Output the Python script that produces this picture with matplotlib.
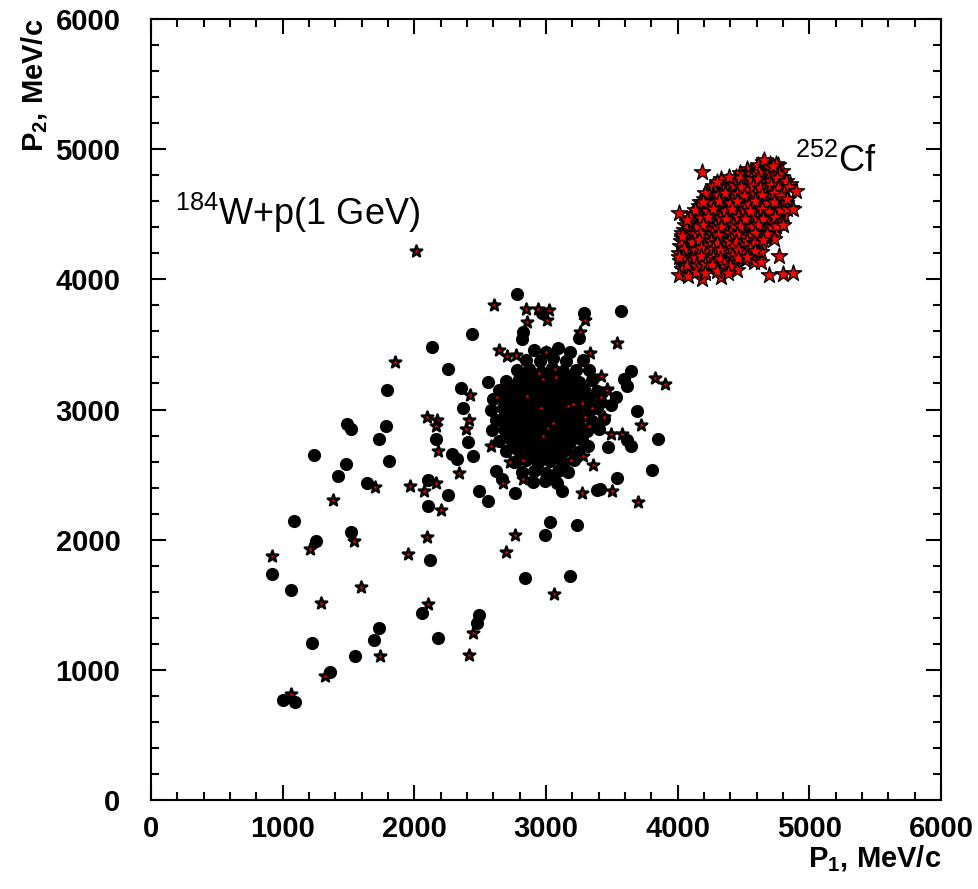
import numpy as np
import matplotlib
matplotlib.use("Agg")
import matplotlib.pyplot as plt
from matplotlib.ticker import MultipleLocator

plt.rcParams['font.family'] = ['Liberation Sans', 'DejaVu Sans']
plt.rcParams['mathtext.fontset'] = 'custom'
plt.rcParams['mathtext.rm'] = 'Liberation Sans'
plt.rcParams['mathtext.bf'] = 'Liberation Sans:bold'

# 184W + p (1 GeV), coincidences drawn as filled circles  (P1, P2) in MeV/c
w_circles = [
    (1090, 2140), (1517, 2061), (1253, 1988), (917, 1734), (1063, 1611),
    (1734, 1319), (1696, 1229), (1223, 1206), (1549, 1109), (1359, 983),
    (1005, 766), (1091, 755), (2121, 1844), (2058, 1440), (2182, 1242),
    (2494, 1422), (2478, 1360), (2992, 2036), (3235, 2115), (3030, 2138),
    (2838, 1708), (3180, 1718), (1792, 3148), (1486, 2886), (1519, 2849),
    (1782, 2875), (1732, 2774), (1240, 2651), (1478, 2581), (1808, 2607),
    (1418, 2493), (1641, 2433), (3567, 3757), (3648, 3296), (3595, 3232),
    (3613, 3183), (3529, 3096), (3494, 3035), (3691, 2989), (3613, 2766),
    (3648, 2722), (3473, 2710), (3848, 2774), (3803, 2538), (3542, 2476),
    (3410, 2389), (2782, 3885), (2967, 3739), (3291, 3743), (3251, 3546),
    (2828, 3598), (2815, 3539), (2436, 3582), (2137, 3484), (2253, 3309),
    (2354, 3168), (2372, 3009), (2165, 2774), (2410, 2754), (2284, 2658),
    (2327, 2617), (2446, 2644), (2101, 2458), (2256, 2343), (2489, 2374),
    (2562, 3208), (3051, 2475), (3321, 2721), (3385, 2385), (3119, 2374),
    (2765, 2356), (2618, 2529), (2666, 2470), (2105, 2260), (2560, 2300),
    # dense core
    (2910, 3460), (3000, 3440), (3095, 3470), (3180, 3440),
    (2850, 3380), (2955, 3370), (3050, 3395), (3150, 3375), (3280, 3380),
    (2780, 3300), (2870, 3310), (2960, 3290), (3045, 3320), (3130, 3295), (3225, 3305), (3330, 3300),
    (2700, 3220), (2795, 3235), (2880, 3210), (2985, 3225), (3070, 3200), (3160, 3230), (3250, 3210), (3350, 3225),
    (2640, 3150), (2735, 3140), (2830, 3160), (2920, 3145), (3010, 3155), (3100, 3135), (3190, 3150), (3290, 3160), (3390, 3140),
    (2600, 3080), (2700, 3090), (2790, 3070), (2880, 3085), (2970, 3060), (3060, 3080), (3150, 3090), (3240, 3070), (3330, 3085), (3420, 3060),
    (2580, 3000), (2670, 3010), (2760, 2990), (2850, 3005), (2940, 2995), (3030, 3010), (3120, 2990), (3210, 3005), (3300, 2995), (3390, 3010),
    (2620, 2920), (2710, 2930), (2800, 2910), (2890, 2925), (2980, 2915), (3070, 2930), (3160, 2910), (3250, 2925), (3350, 2915), (3440, 2925),
    (2590, 2840), (2680, 2850), (2770, 2830), (2860, 2845), (2950, 2835), (3040, 2850), (3130, 2830), (3220, 2845), (3310, 2835), (3400, 2850),
    (2640, 2760), (2730, 2770), (2820, 2750), (2910, 2765), (3000, 2755), (3090, 2770), (3180, 2750), (3270, 2765),
    (2700, 2680), (2790, 2690), (2880, 2670), (2970, 2685), (3060, 2675), (3150, 2690), (3240, 2670),
    (2760, 2600), (2850, 2610), (2940, 2590), (3030, 2605), (3120, 2595), (3210, 2610),
    (2820, 2520), (2910, 2530), (3000, 2515), (3090, 2525), (3170, 2520),
    (2900, 2440), (2990, 2450), (3080, 2435),
    (2830, 3265), (2920, 3255), (3010, 3270), (3100, 3260), (3190, 3255),
    (2770, 3190), (2860, 3180), (2950, 3195), (3040, 3185), (3130, 3180), (3220, 3190),
    (2710, 3120), (2800, 3110), (2890, 3125), (2980, 3115), (3070, 3110), (3160, 3120), (3260, 3115),
    (2720, 3045), (2810, 3035), (2900, 3050), (2990, 3040), (3080, 3035), (3170, 3045), (3260, 3040),
    (2690, 2965), (2780, 2955), (2870, 2970), (2960, 2960), (3050, 2955), (3140, 2965), (3230, 2960), (3320, 2955),
    (2710, 2885), (2800, 2875), (2890, 2890), (2980, 2880), (3070, 2875), (3160, 2885), (3250, 2880),
    (2700, 2805), (2790, 2795), (2880, 2810), (2970, 2800), (3060, 2795), (3150, 2805), (3240, 2800),
    (2760, 2725), (2850, 2715), (2940, 2730), (3030, 2720), (3120, 2715),
    (2820, 2645), (2910, 2635), (3000, 2650), (3090, 2640),
]

# 184W + p (1 GeV), coincidences drawn as small stars
w_stars = [
    (1542, 1990), (1208, 1926), (921, 1874), (1592, 1636), (1291, 1511),
    (1739, 1106), (1322, 955), (1063, 814), (1382, 2305), (2096, 2023),
    (1952, 1890), (2104, 1508), (2446, 1280), (2415, 1114), (2762, 2038),
    (2694, 1908), (3063, 1583), (1853, 3365), (1699, 2407), (3537, 3513),
    (3828, 3242), (3904, 3199), (3461, 3156), (3418, 3260), (3418, 3093),
    (3719, 2881), (3440, 2940), (3491, 2810), (3577, 2812), (3499, 2374),
    (3701, 2293), (2010, 4220), (2607, 3803), (2848, 3770), (2942, 3772),
    (3020, 3764), (3008, 3688), (2853, 3670), (3299, 3688), (3258, 3592),
    (2423, 3108), (2099, 2945), (2175, 2923), (2165, 2873), (2413, 2917),
    (2390, 2851), (2182, 2681), (2339, 2510), (1969, 2415), (2076, 2376),
    (2162, 2433), (2580, 2721), (2626, 3089), (2646, 3455), (2704, 3409),
    (2772, 3420), (3000, 3443), (2853, 3104), (3068, 3309), (3074, 3252),
    (3337, 3433), (3352, 3008), (3324, 2874), (3013, 2860), (2975, 2797),
    (3056, 2893), (2727, 2599), (2823, 2612), (2823, 2469), (3188, 2612),
    (3279, 2643), (3359, 2570), (3276, 2360), (2671, 2432), (3167, 3027),
    (3271, 3048), (3203, 3043), (3294, 2945), (2964, 3008), (2949, 3278),
    (2980, 3231), (2630, 3096), (3466, 3150), (2200, 2230),
]

# 252Cf spontaneous fission
cf_stars = [
    (4650, 4905), (4700, 4890), (4760, 4880),
    (4530, 4845), (4600, 4860), (4670, 4840), (4730, 4855), (4790, 4830),
    (4440, 4785), (4510, 4800), (4580, 4780), (4650, 4795), (4720, 4780), (4790, 4790),
    (4300, 4735), (4370, 4750), (4440, 4730), (4510, 4745), (4580, 4735), (4650, 4740), (4720, 4725), (4800, 4745), (4850, 4730),
    (4250, 4680), (4320, 4690), (4390, 4670), (4460, 4685), (4530, 4675), (4600, 4690), (4670, 4670), (4740, 4685), (4810, 4675),
    (4200, 4615), (4270, 4630), (4340, 4610), (4410, 4625), (4480, 4615), (4550, 4630), (4620, 4610), (4690, 4625), (4760, 4615), (4840, 4620),
    (4160, 4560), (4230, 4570), (4300, 4550), (4370, 4565), (4440, 4555), (4510, 4570), (4580, 4550), (4650, 4565), (4720, 4555), (4790, 4570), (4860, 4545),
    (4110, 4500), (4180, 4510), (4250, 4490), (4320, 4505), (4390, 4495), (4460, 4510), (4530, 4490), (4600, 4505), (4670, 4495), (4740, 4510), (4810, 4495),
    (4070, 4440), (4140, 4450), (4210, 4430), (4280, 4445), (4350, 4435), (4420, 4450), (4490, 4430), (4560, 4445), (4630, 4435), (4700, 4450), (4770, 4430),
    (4050, 4380), (4120, 4390), (4190, 4370), (4260, 4385), (4330, 4375), (4400, 4390), (4470, 4370), (4540, 4385), (4610, 4375), (4680, 4390), (4750, 4370),
    (4030, 4320), (4100, 4330), (4170, 4310), (4240, 4325), (4310, 4315), (4380, 4330), (4450, 4310), (4520, 4325), (4590, 4315), (4660, 4330), (4730, 4310),
    (4020, 4260), (4090, 4270), (4160, 4250), (4230, 4265), (4300, 4255), (4370, 4270), (4440, 4250), (4510, 4265), (4580, 4255), (4640, 4270),
    (4010, 4200), (4080, 4210), (4150, 4190), (4220, 4205), (4290, 4195), (4360, 4210), (4430, 4190), (4500, 4205), (4570, 4195), (4630, 4210),
    (4020, 4140), (4090, 4150), (4160, 4130), (4230, 4145), (4300, 4135), (4370, 4150), (4440, 4130), (4510, 4145), (4580, 4135),
    (4030, 4080), (4100, 4090), (4170, 4070), (4240, 4085), (4310, 4075), (4380, 4090), (4450, 4075),
    (4010, 4030), (4080, 4025), (4182, 4006), (4327, 4020), (4696, 4033), (4802, 4039), (4878, 4046),
    (4610, 4880), (4695, 4860), (4745, 4885),
    (4470, 4820), (4560, 4812), (4615, 4828), (4700, 4818), (4770, 4808),
    (4330, 4770), (4425, 4762), (4470, 4778), (4560, 4768), (4610, 4772), (4700, 4758), (4755, 4776), (4825, 4752),
    (4265, 4715), (4355, 4702), (4430, 4722), (4480, 4708), (4570, 4716), (4625, 4700), (4710, 4722), (4765, 4705), (4845, 4712),
    (4220, 4655), (4310, 4648), (4360, 4662), (4450, 4652), (4500, 4640), (4590, 4658), (4640, 4646), (4730, 4660), (4785, 4640),
    (4170, 4598), (4260, 4588), (4315, 4602), (4400, 4590), (4450, 4604), (4540, 4582), (4590, 4600), (4680, 4588), (4730, 4598), (4820, 4585),
    (4130, 4535), (4220, 4528), (4270, 4540), (4360, 4525), (4410, 4538), (4500, 4530), (4550, 4522), (4640, 4538), (4690, 4520), (4780, 4530), (4830, 4540),
    (4090, 4475), (4180, 4468), (4230, 4480), (4320, 4470), (4370, 4460), (4460, 4478), (4510, 4466), (4600, 4472), (4650, 4462), (4740, 4480),
    (4055, 4415), (4140, 4405), (4190, 4418), (4280, 4410), (4330, 4400), (4420, 4415), (4470, 4408), (4560, 4402), (4610, 4418), (4700, 4405), (4750, 4412),
    (4030, 4355), (4120, 4345), (4170, 4358), (4260, 4350), (4310, 4340), (4400, 4355), (4450, 4348), (4540, 4342), (4590, 4356), (4680, 4345),
    (4025, 4295), (4110, 4288), (4160, 4300), (4250, 4292), (4300, 4282), (4390, 4298), (4440, 4288), (4530, 4296), (4580, 4280), (4650, 4300),
    (4045, 4235), (4130, 4228), (4180, 4240), (4270, 4232), (4320, 4222), (4410, 4238), (4460, 4228), (4550, 4236), (4590, 4220),
    (4040, 4175), (4130, 4165), (4180, 4178), (4270, 4170), (4320, 4160), (4410, 4176), (4460, 4165), (4530, 4172),
    (4070, 4112), (4140, 4105), (4210, 4118), (4260, 4108), (4350, 4115), (4400, 4102),
    (4140, 4058), (4210, 4048), (4300, 4062), (4380, 4052),
    # outliers around the cluster
    (4182, 4827), (4012, 4512), (4073, 4456), (4035, 4333), (4012, 4174),
    (4770, 4180), (4633, 4134), (4896, 4680), (4874, 4537), (4798, 4417),
    (4828, 4617), (4656, 4917), (4727, 4871), (4392, 4787), (4296, 4749),
    (4208, 4665), (4195, 4596),
]

w_circles = np.array(w_circles)
w_stars = np.array(w_stars)
cf_stars = np.array(cf_stars)

fig = plt.figure(figsize=(9.79, 8.89), dpi=100)
ax = fig.add_axes([0.1542, 0.1001, 0.8070, 0.8785])

ax.scatter(w_circles[:, 0], w_circles[:, 1], s=90, c='black', marker='o',
           linewidths=0, zorder=2)
ax.scatter(w_stars[:, 0], w_stars[:, 1], s=75, c='red', marker='*',
           edgecolors='black', linewidths=1.8, zorder=3)
ax.scatter(cf_stars[:, 0], cf_stars[:, 1], s=150, c='red', marker='*',
           edgecolors='black', linewidths=1.0, zorder=3)

ax.set_xlim(0, 6000)
ax.set_ylim(0, 6000)
ax.xaxis.set_major_locator(MultipleLocator(1000))
ax.xaxis.set_minor_locator(MultipleLocator(200))
ax.yaxis.set_major_locator(MultipleLocator(1000))
ax.yaxis.set_minor_locator(MultipleLocator(200))
ax.tick_params(which='both', direction='in', top=True, right=True,
               labelsize=21, width=1.5)
ax.tick_params(axis='y', pad=22)
ax.tick_params(axis='x', pad=11)
ax.tick_params(which='major', length=11)
ax.tick_params(which='minor', length=6)
for lab in ax.get_xticklabels() + ax.get_yticklabels():
    lab.set_fontweight('bold')
for sp in ax.spines.values():
    sp.set_linewidth(1.5)

ax.set_xlabel(r'P$_\mathbf{1}$, MeV/c', fontsize=21, fontweight='bold',
              loc='right', labelpad=0)
ax.set_ylabel(r'P$_\mathbf{2}$, MeV/c', fontsize=21, fontweight='bold',
              loc='top', labelpad=4)

ax.text(180, 4420, r'$^{184}$W+p(1 GeV)', fontsize=26, va='baseline')
ax.text(4890, 4825, r'$^{252}$Cf', fontsize=26, va='baseline')

fig.savefig('out.png', dpi=100)
